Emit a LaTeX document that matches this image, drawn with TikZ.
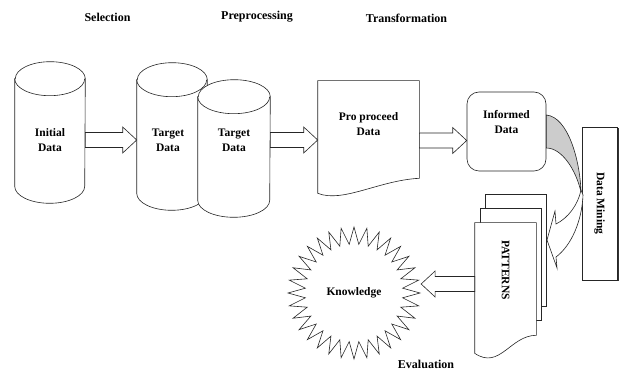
\documentclass[tikz,border=0pt]{standalone}
\usepackage{fontspec}
\setmainfont{Liberation Serif}
\usetikzlibrary{shapes.geometric,calc,shadows}

\newcommand{\fatarrow}[2]{%
	\coordinate (fa-base) at ($(#2)!14pt!(#1)$);
	\draw[fill=white] ($(#1)!7.5pt!90:(#2)$) -- ($(fa-base)!7.5pt!90:(#2)$) -- ($(fa-base)!13pt!90:(#2)$) -- (#2) -- ($(fa-base)!13pt!-90:(#2)$) -- ($(fa-base)!7.5pt!-90:(#2)$) -- ($(#1)!7.5pt!-90:(#2)$) -- cycle;}
\newcommand{\drum}[2]{%
	\draw[fill=white] ($(#1.north west)+(0,17)$) -- ($(#1.south west)+(0,-17)$) arc (180:0:#2 and 17) -- ($(#1.north east)+(0,17)$) arc (0:-180:#2 and 17) -- cycle;
	\draw ($(#1.north west)+(0,17)$) arc (180:0:#2 and 17);}

\begin{document}
\begin{tikzpicture}[x=1pt,y=-1pt,line width=0.6pt,draw=black!85,
	every node/.style={font=\bfseries\fontsize{11.5}{15}\selectfont,align=center,inner sep=0pt},
	title/.style={font=\bfseries\fontsize{12}{14}\selectfont},
	page/.style={minimum width=61pt,minimum height=112pt}]
	
	\useasboundingbox (0,0) rectangle (619,371);
	
	\node[title] (sel) at (107.5,17) {Selection};
	\node[title] (pre) at (257,17) {Preprocessing};
	\node[title] (tra) at (406.5,18) {Transformation};
	\node[title] (eva) at (426,364) {Evaluation};
	
	\node[minimum width=70pt,minimum height=141pt] (initial) at (50,132.5) {};
	\drum{initial}{35}
	\node (initxt) at ($(initial)+(0,7.5)$) {Initial\\Data};
	\node[minimum width=70pt,minimum height=147pt] (target1) at (172,136.5) {};
	\drum{target1}{35}
	\node (tg1txt) at ($(target1)+(-4,3.5)$) {Target\\Data};
	\node[minimum width=72pt,minimum height=137pt] (target2) at (234,148.5) {};
	\drum{target2}{36}
	\node (tg2txt) at ($(target2)+(0,-8.5)$) {Target\\Data};
	
	\node[minimum width=101pt,minimum height=97pt] (proc) at (368.5,129.5) {};
	\draw[fill=white] (proc.north west) -- (proc.north east) -- (proc.south east) .. controls +(-40,2) and +(25,10) .. ($(proc.south west)+(0,15)$) -- cycle;
	\node (proctxt) at ($(proc)+(0,-5)$) {Pro proceed\\Data};
	
	\node[draw,rounded corners=12pt,minimum size=79pt,label={[yshift=9pt]center:Informed\\Data}] (informed) at (506.5,131.5) {};
	
	\node[draw,fill=white,minimum width=35pt,minimum height=153pt,drop shadow={shadow xshift=1.5pt,shadow yshift=-1.5pt,fill=black!80,opacity=1}] (mining) at (599.5,203.5) {};
	\node[rotate=-90] (minetxt) at (mining) {Data Mining};
	
	% the bent arrow into and out of data mining
	\draw[fill=black!20] ($(informed.east)+(0,-16.5)$) .. controls (568,117) and (580,160) .. (581,192) .. controls (576,170) and (562,148) .. ($(informed.east)+(0,16.5)$) -- cycle;
	\draw[fill=white] (581,190) .. controls (578,205) and (568,218) .. (556,224) -- (555,211) -- (547,240) -- (557,268) -- (556,257) .. controls (572,245) and (582,220) .. (583,195) -- cycle;
	
	\node[page,draw,fill=white] (back) at (515.5,250.5) {};
	\node[page,draw,fill=white] (middle) at (511,264) {};
	\node[page] (front) at (505.5,279) {};
	\draw[fill=white] (front.north west) -- (front.north east) -- (front.south east) .. controls +(-26,0) and +(25,17) .. ($(front.south west)+(0,18)$) -- cycle;
	\node[rotate=-90] (pattxt) at ($(front)+(0,-9)$) {PATTERNS};
	
	\node[star,star points=32,star point ratio=1.35,draw,minimum size=132pt] (know) at (354,293) {Knowledge};
	
	\coordinate (a1) at ($(initial.east)+(0,7.5)$);
	\coordinate (b1) at (a1 -| target1.west);
	\fatarrow{a1}{b1}
	\coordinate (a2) at ($(target2.east)+(0,-8.5)$);
	\coordinate (b2) at (a2 -| proc.west);
	\fatarrow{a2}{b2}
	\coordinate (a3) at ($(informed.west)+(0,9)$);
	\coordinate (a3s) at (a3 -| proc.east);
	\fatarrow{a3s}{a3}
	\coordinate (a4) at ($(front.west)+(0,5)$);
	\coordinate (b4) at (a4 -| know.east);
	\fatarrow{a4}{b4}
\end{tikzpicture}
\end{document}
